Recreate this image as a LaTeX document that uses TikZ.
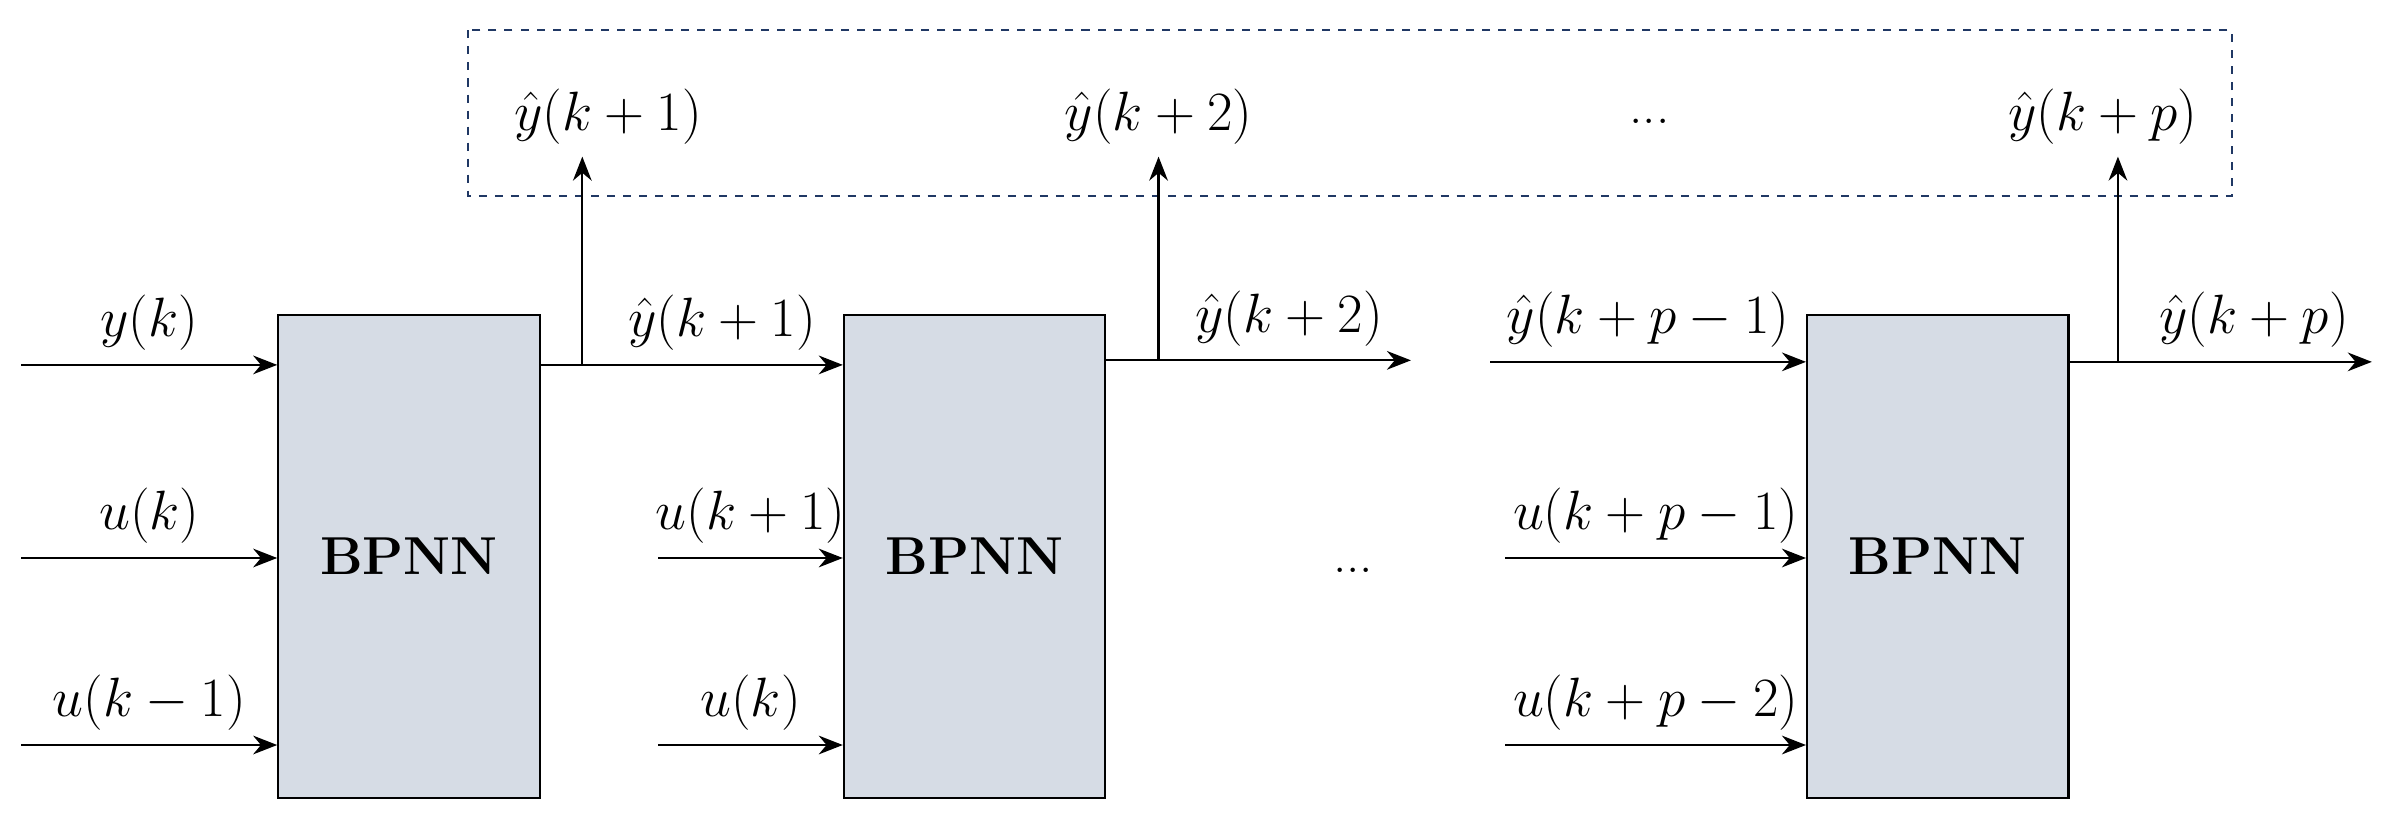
\documentclass[tikz,border=0pt]{standalone}
\usepackage{amsmath}
\usetikzlibrary{arrows.meta}
\definecolor{boxfill}{HTML}{D6DCE5}
\definecolor{dashblue}{HTML}{203864}
\tikzset{
  net/.style={draw, thick, fill=boxfill, minimum width=3.44cm, minimum height=6.36cm, font=\fontsize{20}{24}\selectfont\bfseries},
  sig/.style={thick, -{Stealth[length=9pt,width=7pt]}},
  lab/.style={font=\fontsize{20}{24}\selectfont, inner sep=1pt}
}
\begin{document}
\begin{tikzpicture}[x=0.02cm,y=-0.02cm]
			\useasboundingbox (0,0) rectangle (1568,541);
			\node[net](b1) at (269,366) {BPNN};
			\node[net](b2) at (641,366) {BPNN};
			\node[net](b3) at (1274.5,366) {BPNN};
			
			\draw[dashed, thick, dashblue](308,20) rectangle (1468,129);
			\node[lab](t1) at (400,77) {$\hat{y}(k+1)$};
			\node[lab](t2) at (762,77) {$\hat{y}(k+2)$};
			\node[lab](t3) at (1085,80) {...};
			\node[lab](tp) at (1383,77) {$\hat{y}(k+p)$};
			\node[lab](dots) at (890,375) {...};
			
			\coordinate[](i11) at (14,240);
			\coordinate[](i12) at (14,367);
			\coordinate[](i13) at (14,490);
			\coordinate[](i22) at (433,367);
			\coordinate[](i23) at (433,490);
			\coordinate[](i31) at (980,238);
			\coordinate[](i32) at (990,367);
			\coordinate[](i33) at (990,490);
			\coordinate[](o2) at (928,237);
			\coordinate[](o3) at (1560,238);
			\coordinate[](v1) at (383,240);
			\coordinate[](v2) at (762,237);
			\coordinate[](v3) at (1393,238);
			
			\draw[sig](i11)--(i11-|b1.west) node[lab, midway, above=4pt]{$y(k)$};
			\draw[sig](i12)--(i12-|b1.west) node[lab, midway, above=4pt]{$u(k)$};
			\draw[sig](i13)--(i13-|b1.west) node[lab, midway, above=4pt]{$u(k-1)$};
			\draw[sig](b1.east|-v1)--(v1-|b2.west) node[lab, pos=0.6, above=4pt]{$\hat{y}(k+1)$};
			\draw[sig](v1)--(383,103);
			\draw[sig](i22)--(i22-|b2.west) node[lab, midway, above=4pt]{$u(k+1)$};
			\draw[sig](i23)--(i23-|b2.west) node[lab, midway, above=4pt]{$u(k)$};
			\draw[sig](b2.east|-o2)--(o2) node[lab, pos=0.6, above=4pt]{$\hat{y}(k+2)$};
			\draw[sig](v2)--(762,103);
			\draw[sig](i31)--(i31-|b3.west) node[lab, midway, above=4pt]{$\hat{y}(k+p-1)$};
			\draw[sig](i32)--(i32-|b3.west) node[lab, midway, above=4pt]{$u(k+p-1)$};
			\draw[sig](i33)--(i33-|b3.west) node[lab, midway, above=4pt]{$u(k+p-2)$};
			\draw[sig](b3.east|-o3)--(o3) node[lab, pos=0.61, above=4pt]{$\hat{y}(k+p)$};
			\draw[sig](v3)--(1393,103);
\end{tikzpicture}
\end{document}
